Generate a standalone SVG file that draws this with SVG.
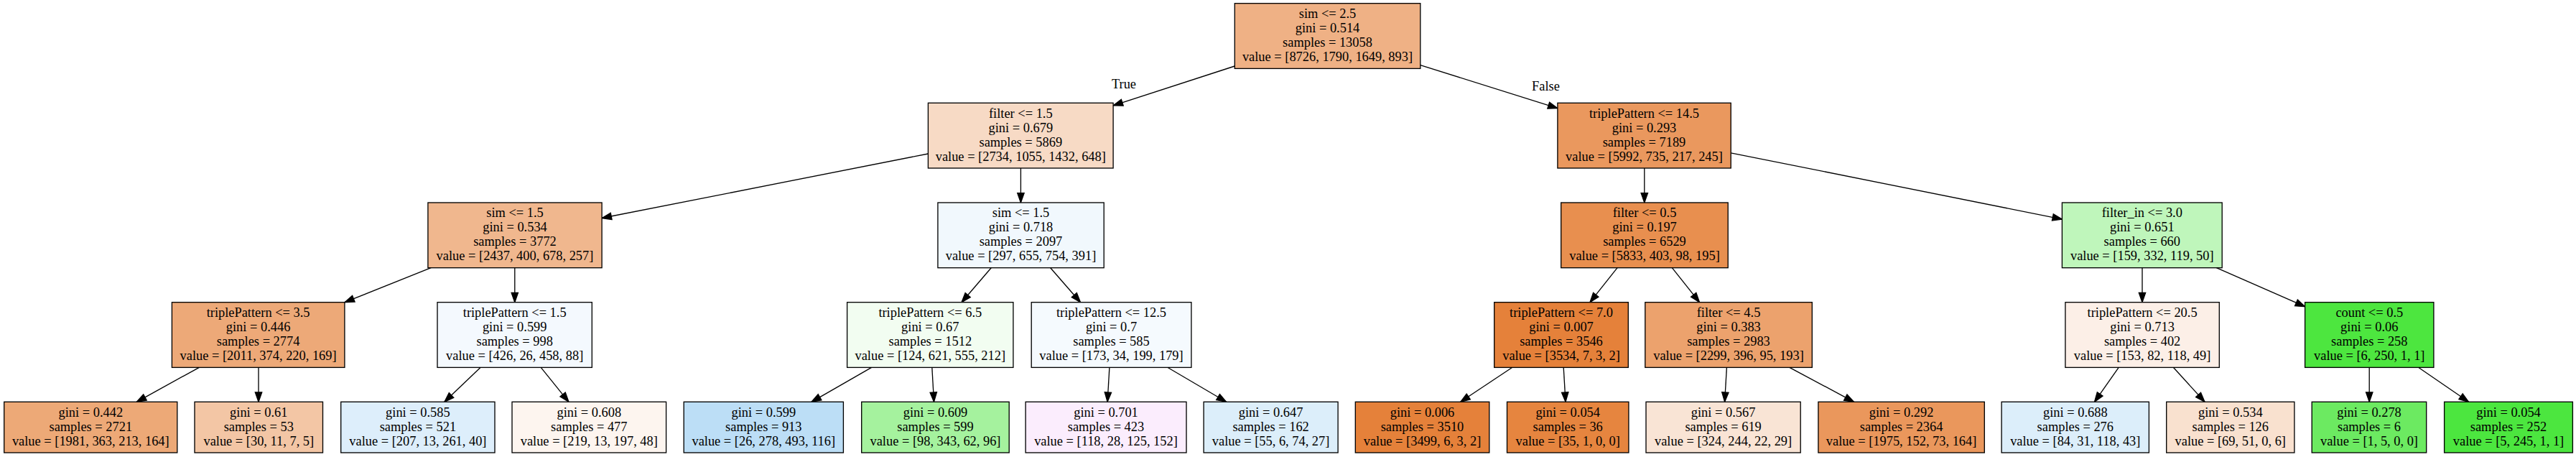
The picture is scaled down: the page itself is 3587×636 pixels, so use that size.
<svg xmlns="http://www.w3.org/2000/svg" width="3587" height="636" viewBox="0 0 3587 636">
<style>
.node rect{stroke:#000;stroke-width:1.33}
text{font-family:"Liberation Serif","Times New Roman",serif;font-size:18.4px;fill:#000;text-anchor:middle}
.edges line{stroke:#000;stroke-width:1.33;fill:none;marker-end:url(#ah)}
</style>
<defs>
<marker id="ah" markerUnits="userSpaceOnUse" markerWidth="16" markerHeight="12" refX="13.3" refY="4.67" orient="auto" overflow="visible">
<path d="M0,0 L13.3,4.67 L0,9.33 Z" fill="#000" stroke="#000" stroke-width="1.33"/>
</marker>
</defs>
<rect x="0" y="0" width="3587" height="636" fill="#fff"/>
<g class="edges" id="edges">
<line x1="1719.3" y1="92" x2="1550.1" y2="146.8"/>
<line x1="1977.8" y1="90.6" x2="2168.9" y2="150.7"/>
<line x1="1292.4" y1="214" x2="838.1" y2="303.5"/>
<line x1="1421.4" y1="234" x2="1421.4" y2="282"/>
<line x1="2289.8" y1="234" x2="2289.8" y2="282"/>
<line x1="2410.2" y1="212.8" x2="2871.4" y2="305.1"/>
<line x1="600.2" y1="372.7" x2="480" y2="420.7"/>
<line x1="716.8" y1="372.7" x2="716.8" y2="420.7"/>
<line x1="1380.2" y1="372.7" x2="1339" y2="420.7"/>
<line x1="1462.7" y1="372.7" x2="1504.5" y2="420.7"/>
<line x1="2252.1" y1="372.7" x2="2214" y2="420.7"/>
<line x1="2328.3" y1="372.7" x2="2366.5" y2="420.7"/>
<line x1="2983" y1="372.7" x2="2983" y2="420.7"/>
<line x1="3086.3" y1="372.7" x2="3209.6" y2="426.7"/>
<line x1="277.4" y1="511.3" x2="190.3" y2="559.3"/>
<line x1="360" y1="511.3" x2="360" y2="559.3"/>
<line x1="669.2" y1="511.3" x2="618.9" y2="559.3"/>
<line x1="753.2" y1="511.3" x2="791.9" y2="559.3"/>
<line x1="1213.6" y1="511.3" x2="1130" y2="559.3"/>
<line x1="1297.8" y1="511.3" x2="1300.5" y2="559.3"/>
<line x1="1544.9" y1="511.3" x2="1542.1" y2="559.3"/>
<line x1="1625.7" y1="511.3" x2="1707.5" y2="559.3"/>
<line x1="2105.9" y1="511.3" x2="2033.7" y2="559.3"/>
<line x1="2177.2" y1="511.3" x2="2180" y2="559.3"/>
<line x1="2404.4" y1="511.3" x2="2401.6" y2="559.3"/>
<line x1="2491.8" y1="511.3" x2="2581.5" y2="559.3"/>
<line x1="2950.2" y1="511.3" x2="2916.5" y2="559.3"/>
<line x1="3026.3" y1="511.3" x2="3070" y2="559.3"/>
<line x1="3299.2" y1="511.3" x2="3299.2" y2="559.3"/>
<line x1="3367.5" y1="511.3" x2="3437.5" y2="559.3"/>
<text x="1565" y="123">True</text>
<text x="2152.5" y="125.5">False</text>
</g>
<g class="node" id="node0"><rect x="1719.3" y="4.7" width="258.5" height="90.7" fill="#efb185"/>
<text x="1848.5" y="25">sim &lt;= 2.5</text><text x="1848.5" y="45">gini = 0.514</text><text x="1848.5" y="65">samples = 13058</text><text x="1848.5" y="85">value = [8726, 1790, 1649, 893]</text></g>
<g class="node" id="node1"><rect x="1292.4" y="143.3" width="257.7" height="90.7" fill="#f7dac5"/>
<text x="1421.3" y="163.6">filter &lt;= 1.5</text><text x="1421.3" y="183.6">gini = 0.679</text><text x="1421.3" y="203.6">samples = 5869</text><text x="1421.3" y="223.6">value = [2734, 1055, 1432, 648]</text></g>
<g class="node" id="node2"><rect x="2168.9" y="143.3" width="241.3" height="90.7" fill="#ea985e"/>
<text x="2289.5" y="163.6">triplePattern &lt;= 14.5</text><text x="2289.5" y="183.6">gini = 0.293</text><text x="2289.5" y="203.6">samples = 7189</text><text x="2289.5" y="223.6">value = [5992, 735, 217, 245]</text></g>
<g class="node" id="node3"><rect x="595.9" y="282" width="242.2" height="90.7" fill="#f0b78e"/>
<text x="717" y="302.3">sim &lt;= 1.5</text><text x="717" y="322.3">gini = 0.534</text><text x="717" y="342.3">samples = 3772</text><text x="717" y="362.3">value = [2437, 400, 678, 257]</text></g>
<g class="node" id="node4"><rect x="1305.9" y="282" width="231.3" height="90.7" fill="#f1f8fd"/>
<text x="1421.5" y="302.3">sim &lt;= 1.5</text><text x="1421.5" y="322.3">gini = 0.718</text><text x="1421.5" y="342.3">samples = 2097</text><text x="1421.5" y="362.3">value = [297, 655, 754, 391]</text></g>
<g class="node" id="node5"><rect x="2173.7" y="282" width="232.5" height="90.7" fill="#e88f4f"/>
<text x="2290" y="302.3">filter &lt;= 0.5</text><text x="2290" y="322.3">gini = 0.197</text><text x="2290" y="342.3">samples = 6529</text><text x="2290" y="362.3">value = [5833, 403, 98, 195]</text></g>
<g class="node" id="node6"><rect x="2871.4" y="282" width="222.8" height="90.7" fill="#bff6bb"/>
<text x="2982.8" y="302.3">filter_in &lt;= 3.0</text><text x="2982.8" y="322.3">gini = 0.651</text><text x="2982.8" y="342.3">samples = 660</text><text x="2982.8" y="362.3">value = [159, 332, 119, 50]</text></g>
<g class="node" id="node7"><rect x="239.4" y="420.7" width="240.5" height="90.7" fill="#eda978"/>
<text x="359.6" y="441">triplePattern &lt;= 3.5</text><text x="359.6" y="461">gini = 0.446</text><text x="359.6" y="481">samples = 2774</text><text x="359.6" y="501">value = [2011, 374, 220, 169]</text></g>
<g class="node" id="node8"><rect x="609" y="420.7" width="215.3" height="90.7" fill="#f4f9fe"/>
<text x="716.7" y="441">triplePattern &lt;= 1.5</text><text x="716.7" y="461">gini = 0.599</text><text x="716.7" y="481">samples = 998</text><text x="716.7" y="501">value = [426, 26, 458, 88]</text></g>
<g class="node" id="node9"><rect x="1179.6" y="420.7" width="231.3" height="90.7" fill="#f2fdf1"/>
<text x="1295.3" y="441">triplePattern &lt;= 6.5</text><text x="1295.3" y="461">gini = 0.67</text><text x="1295.3" y="481">samples = 1512</text><text x="1295.3" y="501">value = [124, 621, 555, 212]</text></g>
<g class="node" id="node10"><rect x="1436.2" y="420.7" width="222.7" height="90.7" fill="#f5fafe"/>
<text x="1547.5" y="441">triplePattern &lt;= 12.5</text><text x="1547.5" y="461">gini = 0.7</text><text x="1547.5" y="481">samples = 585</text><text x="1547.5" y="501">value = [173, 34, 199, 179]</text></g>
<g class="node" id="node11"><rect x="2080.7" y="420.7" width="186.6" height="90.7" fill="#e5813a"/>
<text x="2174" y="441">triplePattern &lt;= 7.0</text><text x="2174" y="461">gini = 0.007</text><text x="2174" y="481">samples = 3546</text><text x="2174" y="501">value = [3534, 7, 3, 2]</text></g>
<g class="node" id="node12"><rect x="2290.8" y="420.7" width="232.5" height="90.7" fill="#eca26d"/>
<text x="2407" y="441">filter &lt;= 4.5</text><text x="2407" y="461">gini = 0.383</text><text x="2407" y="481">samples = 2983</text><text x="2407" y="501">value = [2299, 396, 95, 193]</text></g>
<g class="node" id="node13"><rect x="2875.9" y="420.7" width="214.4" height="90.7" fill="#fcefe7"/>
<text x="2983.1" y="441">triplePattern &lt;= 20.5</text><text x="2983.1" y="461">gini = 0.713</text><text x="2983.1" y="481">samples = 402</text><text x="2983.1" y="501">value = [153, 82, 118, 49]</text></g>
<g class="node" id="node14"><rect x="3209.6" y="420.7" width="179.3" height="90.7" fill="#4de63f"/>
<text x="3299.3" y="441">count &lt;= 0.5</text><text x="3299.3" y="461">gini = 0.06</text><text x="3299.3" y="481">samples = 258</text><text x="3299.3" y="501">value = [6, 250, 1, 1]</text></g>
<g class="node" id="leaf1"><rect x="5.7" y="559.3" width="241.1" height="70.7" fill="#eda977"/>
<text x="126.3" y="579.6">gini = 0.442</text><text x="126.3" y="599.6">samples = 2721</text><text x="126.3" y="619.6">value = [1981, 363, 213, 164]</text></g>
<g class="node" id="leaf2"><rect x="271" y="559.3" width="178.5" height="70.7" fill="#f3c6a5"/>
<text x="360.3" y="579.6">gini = 0.61</text><text x="360.3" y="599.6">samples = 53</text><text x="360.3" y="619.6">value = [30, 11, 7, 5]</text></g>
<g class="node" id="leaf3"><rect x="474.7" y="559.3" width="214.3" height="70.7" fill="#ddeefb"/>
<text x="581.9" y="579.6">gini = 0.585</text><text x="581.9" y="599.6">samples = 521</text><text x="581.9" y="619.6">value = [207, 13, 261, 40]</text></g>
<g class="node" id="leaf4"><rect x="713" y="559.3" width="214.6" height="70.7" fill="#fdf5ef"/>
<text x="820.3" y="579.6">gini = 0.608</text><text x="820.3" y="599.6">samples = 477</text><text x="820.3" y="619.6">value = [219, 13, 197, 48]</text></g>
<g class="node" id="leaf5"><rect x="952.2" y="559.3" width="222.2" height="70.7" fill="#bcdef6"/>
<text x="1063.3" y="579.6">gini = 0.599</text><text x="1063.3" y="599.6">samples = 913</text><text x="1063.3" y="619.6">value = [26, 278, 493, 116]</text></g>
<g class="node" id="leaf6"><rect x="1199.7" y="559.3" width="205.5" height="70.7" fill="#a5f29e"/>
<text x="1302.5" y="579.6">gini = 0.609</text><text x="1302.5" y="599.6">samples = 599</text><text x="1302.5" y="619.6">value = [98, 343, 62, 96]</text></g>
<g class="node" id="leaf7"><rect x="1428.1" y="559.3" width="223.9" height="70.7" fill="#fbedfd"/>
<text x="1540" y="579.6">gini = 0.701</text><text x="1540" y="599.6">samples = 423</text><text x="1540" y="619.6">value = [118, 28, 125, 152]</text></g>
<g class="node" id="leaf8"><rect x="1676.1" y="559.3" width="187" height="70.7" fill="#dceefa"/>
<text x="1769.6" y="579.6">gini = 0.647</text><text x="1769.6" y="599.6">samples = 162</text><text x="1769.6" y="619.6">value = [55, 6, 74, 27]</text></g>
<g class="node" id="leaf9"><rect x="1887.3" y="559.3" width="186.5" height="70.7" fill="#e5813a"/>
<text x="1980.5" y="579.6">gini = 0.006</text><text x="1980.5" y="599.6">samples = 3510</text><text x="1980.5" y="619.6">value = [3499, 6, 3, 2]</text></g>
<g class="node" id="leaf10"><rect x="2098.5" y="559.3" width="169.4" height="70.7" fill="#e6853f"/>
<text x="2183.2" y="579.6">gini = 0.054</text><text x="2183.2" y="599.6">samples = 36</text><text x="2183.2" y="619.6">value = [35, 1, 0, 0]</text></g>
<g class="node" id="leaf11"><rect x="2292" y="559.3" width="215.2" height="70.7" fill="#f9e4d5"/>
<text x="2399.6" y="579.6">gini = 0.567</text><text x="2399.6" y="599.6">samples = 619</text><text x="2399.6" y="619.6">value = [324, 244, 22, 29]</text></g>
<g class="node" id="leaf12"><rect x="2531.9" y="559.3" width="231.4" height="70.7" fill="#ea975c"/>
<text x="2647.6" y="579.6">gini = 0.292</text><text x="2647.6" y="599.6">samples = 2364</text><text x="2647.6" y="619.6">value = [1975, 152, 73, 164]</text></g>
<g class="node" id="leaf13"><rect x="2787.1" y="559.3" width="205.3" height="70.7" fill="#dceefa"/>
<text x="2889.8" y="579.6">gini = 0.688</text><text x="2889.8" y="599.6">samples = 276</text><text x="2889.8" y="619.6">value = [84, 31, 118, 43]</text></g>
<g class="node" id="leaf14"><rect x="3016.7" y="559.3" width="178.2" height="70.7" fill="#f9e1cf"/>
<text x="3105.8" y="579.6">gini = 0.534</text><text x="3105.8" y="599.6">samples = 126</text><text x="3105.8" y="619.6">value = [69, 51, 0, 6]</text></g>
<g class="node" id="leaf15"><rect x="3219.2" y="559.3" width="159.5" height="70.7" fill="#6cea61"/>
<text x="3299" y="579.6">gini = 0.278</text><text x="3299" y="599.6">samples = 6</text><text x="3299" y="619.6">value = [1, 5, 0, 0]</text></g>
<g class="node" id="leaf16"><rect x="3403.6" y="559.3" width="178.8" height="70.7" fill="#4ce63f"/>
<text x="3493" y="579.6">gini = 0.054</text><text x="3493" y="599.6">samples = 252</text><text x="3493" y="619.6">value = [5, 245, 1, 1]</text></g>
</svg>
